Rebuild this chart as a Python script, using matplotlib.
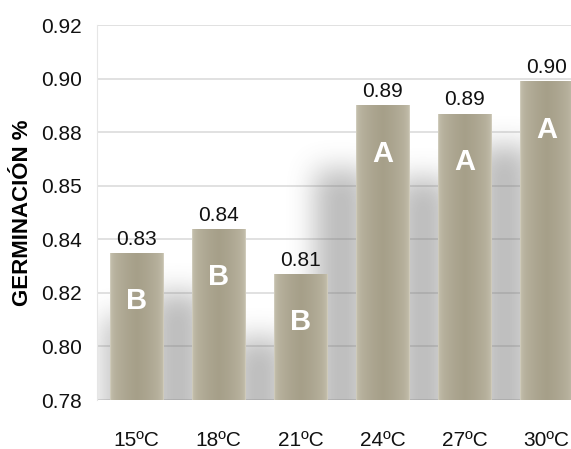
import matplotlib.pyplot as plt
import numpy as np

# Data
temperatures = ["15ºC", "18ºC", "21ºC", "24ºC", "27ºC", "30ºC"]
germination = [0.835, 0.844, 0.827, 0.890, 0.887, 0.899]
value_labels = ["0.83", "0.84", "0.81", "0.89", "0.89", "0.90"]
groups = ["B", "B", "B", "A", "A", "A"]
y_ticks = [0.78, 0.80, 0.82, 0.84, 0.86, 0.88, 0.90, 0.92]
y_tick_labels = ["0.78", "0.80", "0.82", "0.84", "0.85", "0.88", "0.90", "0.92"]

plt.rcParams['font.family'] = ['Liberation Sans', 'DejaVu Sans']

fig = plt.figure(figsize=(5.71, 4.49), dpi=100)
ax = fig.add_axes([0.17, 0.109, 0.83, 0.835])

x = np.arange(len(temperatures))
width = 0.65
base = 0.78
xlim = (-0.48, 5.3)
ylim = (0.78, 0.92)


def box_blur(a, r, axis):
    k = np.ones(2 * r + 1) / (2 * r + 1)
    return np.apply_along_axis(lambda m: np.convolve(m, k, mode='same'), axis, a)


# soft shadows cast to the left of each bar
nx, ny = 500, 350
gx = np.linspace(xlim[0], xlim[1], nx)
gy = np.linspace(ylim[0], ylim[1], ny)
GX, GY = np.meshgrid(gx, gy)
mask = np.zeros_like(GX)
for xi, v in zip(x, germination):
    cx = xi - 0.5
    inside = (np.abs(GX - cx) < width / 2) & (GY < v - 0.024)
    mask[inside] = 1.0
mask = np.pad(mask, ((60, 0), (0, 0)), mode='edge')
for _ in range(3):
    mask = box_blur(mask, 13, 1)
    mask = box_blur(mask, 12, 0)
mask = mask[60:]
rgba = np.zeros((ny, nx, 4))
rgba[..., :3] = 0.42
rgba[..., 3] = mask * 0.45
ax.imshow(rgba, extent=(xlim[0], xlim[1], ylim[0], ylim[1]), origin='lower',
          aspect='auto', zorder=1, interpolation='bilinear')

bars = ax.bar(x, [v - base for v in germination], width, bottom=base,
              color='#a7a18b', edgecolor='none', zorder=3)

# shading inside bars
grad = np.linspace(0, 1, 64)
shade = 1 - 0.9 * (1 - np.abs(grad - 0.5) * 2) ** 0.3
light = np.array([210, 206, 190]) / 255
dark = np.array([161, 154, 131]) / 255
img = light[None, :] * shade[:, None] + dark[None, :] * (1 - shade[:, None])
img = img[None, :, :]
for b in bars:
    x0, y0 = b.get_x(), b.get_y()
    im = ax.imshow(img, extent=(x0, x0 + b.get_width(), y0, y0 + b.get_height()),
                   aspect='auto', zorder=4, interpolation='bilinear')
    im.set_clip_path(b)

for xi, v, lab, g in zip(x, germination, value_labels, groups):
    ax.annotate(lab, (xi, v), xytext=(0, 3), textcoords='offset points',
                ha='center', va='bottom', fontsize=15, color='#111111', zorder=6)
    ax.text(xi, v - 0.018, g, ha='center', va='center', fontsize=21,
            fontweight='bold', color='white', zorder=6)

ax.set_ylim(*ylim)
ax.set_xlim(*xlim)
ax.set_yticks(y_ticks)
ax.set_yticklabels(y_tick_labels)
ax.set_xticks(x)
ax.set_xticklabels(temperatures)
ax.tick_params(axis='both', length=0, labelsize=15, colors='#111111')
ax.tick_params(axis='x', pad=22)
ax.tick_params(axis='y', pad=11)
ax.grid(axis='y', color='#dcdcdc', linewidth=1.2, zorder=0)
ax.set_axisbelow(True)
for s in ['top', 'right', 'bottom']:
    ax.spines[s].set_visible(False)
ax.spines['left'].set_color('#e6e6e6')

ax.set_ylabel('GERMINACIÓN %', fontsize=16, fontweight='bold', labelpad=6)

fig.savefig('out.png', dpi=100)
